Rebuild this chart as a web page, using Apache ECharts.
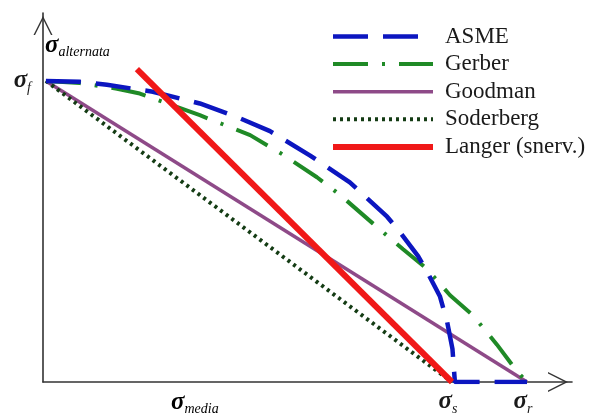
<!DOCTYPE html>
<html><head><meta charset="utf-8">
<script src="https://cdn.jsdelivr.net/npm/echarts@6/dist/echarts.min.js"></script>
<style>html,body{margin:0;padding:0;background:#fff}#c{width:592px;height:416px}</style>
</head><body><div id="c"></div>
<script>
// ---- data (normalised: sigma_r = 1 on x, sigma_f = 1 on y) ----
const seriesNames = ['ASME', 'Gerber', 'Goodman', 'Soderberg', 'Langer (snerv.)'];
const xTickValues = [0.845, 1.0];
const xTickLabels = ['s', 'r'];
const yTickValues = [1.0];
const yTickLabels = ['f'];
const asme = [[0.006,1.0],[0.076,0.997],[0.132,0.987],[0.227,0.964],[0.324,0.925],[0.407,0.876],
  [0.469,0.833],[0.552,0.752],[0.634,0.663],[0.711,0.549],[0.733,0.507],[0.775,0.418],[0.795,0.362],
  [0.820,0.285],[0.835,0.200],[0.846,0.110],[0.851,0.0],[1.0,0.0]];
const gerber = [[0.006,1.0],[0.076,0.993],[0.153,0.974],[0.200,0.958],[0.324,0.886],[0.428,0.820],
  [0.496,0.755],[0.566,0.680],[0.614,0.621],[0.682,0.526],[0.744,0.441],[0.793,0.376],[0.841,0.288],
  [0.888,0.222],[0.938,0.124],[0.979,0.036],[1.0,0.0]];
const goodman = [[0.006,1.0],[1.0,0.0]];
const soderberg = [[0.006,1.0],[0.845,0.0]];
const langer = [[0.194,1.039],[0.845,0.0]];

const serif = "'Liberation Serif','DejaVu Serif',serif";
const chevron = 'path://M0,100 L50,0 L100,100 L92,100 L50,16 L8,100 Z';
const sigRich = {
  s: {fontFamily: serif, fontStyle: 'italic', fontWeight: 'bold', fontSize: 25, color: '#1a1a1a', lineHeight: 28},
  sub: {fontFamily: serif, fontStyle: 'italic', fontSize: 14, color: '#1a1a1a', lineHeight: 14, verticalAlign: 'bottom'}
};

const chart = echarts.init(document.getElementById('c'));
chart.setOption({
  animation: false,
  backgroundColor: '#fff',
  grid: {left: 43, right: 20, top: 13, bottom: 28, containLabel: false},
  xAxis: {
    type: 'value', min: 0, max: 1.093,
    axisLine: {show: true, symbol: ['none', chevron], symbolSize: [20, 28], symbolOffset: [0, -14],
      lineStyle: {color: '#333', width: 1.6}},
    axisTick: {show: false}, splitLine: {show: false},
    axisLabel: {customValues: xTickValues, margin: 6, padding: [0, 8, 0, 0],
      formatter: v => '{s|σ}{sub|' + xTickLabels[xTickValues.indexOf(v)] + '}', rich: sigRich}
  },
  yAxis: {
    type: 'value', min: 0, max: 1.2255,
    axisLine: {show: true, symbol: ['none', chevron], symbolSize: [19, 25], symbolOffset: [0, -12.5],
      lineStyle: {color: '#333', width: 1.6}},
    axisTick: {show: false}, splitLine: {show: false},
    axisLabel: {customValues: yTickValues, margin: 12,
      formatter: v => '{s|σ}{sub|' + yTickLabels[yTickValues.indexOf(v)] + '}', rich: sigRich}
  },
  legend: {
    orient: 'vertical', left: 330, top: 25, padding: 0, itemWidth: 100, itemHeight: 14, itemGap: 4.6,
    data: seriesNames, selectedMode: false,
    itemStyle: {opacity: 0},
    lineStyle: {width: 'inherit', type: 'inherit'},
    textStyle: {fontFamily: serif, fontSize: 23, color: '#1a1a1a', lineHeight: 22, padding: [0, 0, 0, 7]}
  },
  graphic: [
    {type: 'text', left: 45, top: 33, style: {text: '{s|σ}{sub|alternata}', rich: sigRich}},
    {type: 'text', left: 171, top: 390, style: {text: '{s|σ}{sub|media}', rich: sigRich}}
  ],
  series: [
    {name: 'Goodman', type: 'line', data: goodman, symbol: 'none', z: 2,
      lineStyle: {color: '#8e4a88', width: 3.5}, itemStyle: {color: '#8e4a88'}},
    {name: 'Soderberg', type: 'line', data: soderberg, symbol: 'none', z: 2,
      lineStyle: {color: '#143c14', width: 4, type: [3, 4]}, itemStyle: {color: '#143c14'}},
    {name: 'Gerber', type: 'line', data: gerber, symbol: 'none', z: 3,
      lineStyle: {color: '#1f8a26', width: 4, type: [35, 14, 3, 14]}, itemStyle: {color: '#1f8a26'}},
    {name: 'ASME', type: 'line', data: asme, symbol: 'none', z: 4,
      lineStyle: {color: '#0c16c0', width: 4.5, type: [35, 15]}, itemStyle: {color: '#0c16c0'}},
    {name: 'Langer (snerv.)', type: 'line', data: langer, symbol: 'none', z: 5,
      lineStyle: {color: '#f01818', width: 6}, itemStyle: {color: '#f01818'}}
  ]
});
</script></body></html>
